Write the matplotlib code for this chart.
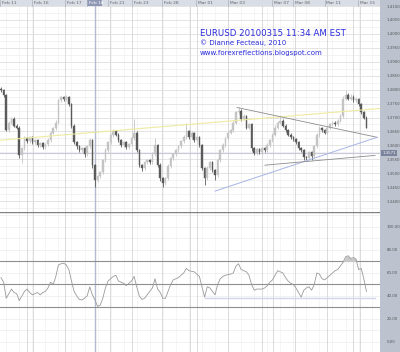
import matplotlib
matplotlib.use("Agg")
import matplotlib.pyplot as plt
from matplotlib.patches import Rectangle
from matplotlib.transforms import blended_transform_factory
import numpy as np

plt.rcParams['font.family'] = ['DejaVu Sans']

# ---------------- data ----------------
first_open = 1.3804
closes = [1.3797, 1.3779, 1.3654, 1.3682, 1.3696, 1.3671, 1.3664, 1.3564, 1.3589, 1.3625,
          1.3614, 1.3629, 1.3611, 1.3618, 1.3600, 1.3607, 1.3593, 1.3604, 1.3618, 1.3646,
          1.3661, 1.3682, 1.3761, 1.3772, 1.3765, 1.3772, 1.3747, 1.3671, 1.3611, 1.3596,
          1.3582, 1.3589, 1.3568, 1.3596, 1.3618, 1.3529, 1.3475, 1.3489, 1.3504, 1.3546,
          1.3582, 1.3611, 1.3636, 1.3650, 1.3639, 1.3618, 1.3600, 1.3611, 1.3593, 1.3604,
          1.3625, 1.3646, 1.3582, 1.3529, 1.3518, 1.3539, 1.3546, 1.3539, 1.3568, 1.3600,
          1.3529, 1.3482, 1.3464, 1.3482, 1.3525, 1.3554, 1.3568, 1.3582, 1.3596, 1.3614,
          1.3629, 1.3650, 1.3629, 1.3643, 1.3618, 1.3629, 1.3600, 1.3518, 1.3482, 1.3518,
          1.3539, 1.3511, 1.3493, 1.3546, 1.3582, 1.3600, 1.3625, 1.3646, 1.3654, 1.3682,
          1.3718, 1.3725, 1.3696, 1.3704, 1.3664, 1.3675, 1.3589, 1.3571, 1.3586, 1.3575,
          1.3589, 1.3582, 1.3600, 1.3618, 1.3639, 1.3664, 1.3682, 1.3689, 1.3671, 1.3654,
          1.3639, 1.3629, 1.3622, 1.3611, 1.3589, 1.3582, 1.3557, 1.3554, 1.3575, 1.3561,
          1.3596, 1.3636, 1.3661, 1.3654, 1.3646, 1.3664, 1.3675, 1.3682, 1.3675, 1.3689,
          1.3704, 1.3768, 1.3782, 1.3768, 1.3775, 1.3761, 1.3765, 1.3747, 1.3718, 1.3700,
          1.3664]
# wick lengths in pips above / below the candle body
wick_up = [6, 5, 4, 6, 5, 6, 4, 5, 6, 7, 5, 6, 5, 6, 5, 6, 5, 6, 7, 6,
           5, 8, 7, 6, 5, 7, 6, 5, 6, 5, 6, 5, 6, 5, 10, 6, 5, 6, 5, 6,
           7, 6, 6, 7, 5, 6, 5, 6, 5, 6, 7, 47, 5, 6, 5, 6, 5, 6, 7, 25,
           5, 6, 5, 6, 7, 6, 5, 6, 7, 6, 8, 29, 6, 7, 6, 5, 6, 5, 6, 7,
           6, 5, 6, 7, 6, 7, 6, 7, 6, 8, 7, 14, 6, 7, 6, 7, 5, 6, 5, 6,
           5, 6, 7, 6, 7, 8, 7, 15, 6, 5, 6, 5, 6, 5, 6, 5, 6, 5, 6, 5,
           7, 8, 7, 6, 5, 7, 6, 7, 6, 7, 8, 10, 18, 7, 8, 6, 7, 6, 5, 6,
           4]
wick_dn = [5, 6, 4, 5, 6, 5, 6, 8, 28, 6, 5, 6, 5, 6, 7, 5, 6, 5, 6, 5,
           6, 5, 6, 5, 6, 5, 6, 7, 6, 8, 7, 6, 8, 6, 5, 9, 25, 7, 6, 5,
           6, 5, 6, 5, 6, 5, 6, 5, 6, 5, 6, 5, 7, 8, 9, 6, 5, 6, 5, 6,
           7, 8, 14, 6, 5, 6, 5, 6, 5, 6, 5, 6, 5, 6, 5, 6, 7, 8, 25, 7,
           6, 7, 18, 6, 5, 6, 5, 6, 5, 6, 5, 6, 7, 6, 7, 6, 8, 7, 6, 7,
           6, 7, 6, 5, 6, 5, 6, 5, 6, 5, 6, 5, 6, 5, 7, 6, 8, 7, 6, 15,
           6, 5, 6, 5, 6, 5, 6, 5, 6, 5, 6, 5, 6, 5, 6, 5, 6, 7, 6, 6,
           3]
rsi = [56, 52, 38, 42, 46, 43, 42, 36, 40, 44, 46, 43, 41, 42, 43, 41, 43, 44, 47, 52,
       50, 57, 67, 68, 68.5, 67, 63, 53, 44, 40, 37, 36.5, 38, 40, 48, 41, 36.5, 31, 32, 38,
       47, 53, 55, 57, 58, 53, 52, 51, 49, 51, 53, 57, 48, 40, 37, 38, 41, 44, 47, 55,
       46, 43, 38, 38, 44, 50, 54, 55, 56, 58, 60, 64, 62, 61.5, 61, 59, 57, 48, 39, 48,
       47, 44, 41, 50, 55, 57, 58, 58.6, 59, 60, 66, 68, 63, 62, 61, 58, 50, 45, 46, 46,
       46, 47, 49, 52, 54, 58, 62, 61, 60, 56, 53, 51, 50, 47, 43, 39, 45, 47, 48, 45,
       50, 60, 59, 55, 54, 56, 58, 60, 62, 63, 66, 69, 74, 75, 72.5, 73.5, 72, 63, 64, 55,
       44]

date_labels = ["Feb 11", "Feb 16", "Feb 17", "Feb 18", "Feb 21", "Feb 23", "Feb 28",
               "Mar 01", "Mar 03", "Mar 07", "Mar 08", "Mar 11", "Mar 15"]
date_pos = [-0.4, 11.9, 24.5, 33.0, 41.0, 50.2, 61.7, 74.7, 87.0, 103.8, 111.9, 124.1, 136.8]
day_grid = [10.0, 12.3, 24.5, 36.0, 41.8, 50.2, 61.7, 72.4, 75.1, 87.0, 100.0, 104.2, 112.6, 124.9, 134.9, 137.6]
cursor_pos = 36.0
price_ticks = [1.3400, 1.3450, 1.3500, 1.3550, 1.3600, 1.3650, 1.3700, 1.3750, 1.3800,
               1.3850, 1.3900, 1.3950, 1.4000, 1.4050, 1.4100]
rsi_ticks = [0, 20, 40, 60, 80, 100]
rsi_levels = [30, 50, 70]
marker_price = 1.3571

# trend lines (bar index, price)
yellow_line = ([-1, 146], [1.3618, 1.3733])
grey_down = ([90.4, 144.1], [1.3736, 1.3629])
blue_up = ([82.0, 144.1], [1.3436, 1.3629])
grey_low = ([101.1, 143.3], [1.3529, 1.3564])
rsi_support = ([78.2, 143.3], [38.3, 38.3])

# ---------------- figure ----------------
W, H = 400, 352
fig = plt.figure(figsize=(4.0, 3.52), dpi=100)
fig.patch.set_facecolor('white')

def fx(px):
    return px / W

def fy(py):
    return 1 - py / H

strip_col = '#bcc3cf'
fig.patches.append(Rectangle((fx(380), 0), fx(20), 1, transform=fig.transFigure,
                             facecolor=strip_col, edgecolor='none', zorder=-10))
fig.patches.append(Rectangle((0, fy(6)), fx(380), 6 / H, transform=fig.transFigure,
                             facecolor='#d9dde5', edgecolor='none', zorder=-10))

ax = fig.add_axes([0, fy(212), fx(380), (212 - 6) / H])
axr = fig.add_axes([0, 0, fx(380), (352 - 212) / H], sharex=ax)

n = len(closes)
idx = np.arange(n)
opens = [first_open] + closes[:-1]
xmin, xmax = -0.385, 145.2

for a in (ax, axr):
    a.set_facecolor('white')
    for s in a.spines.values():
        s.set_visible(False)
    a.tick_params(left=False, bottom=False, labelbottom=False, labelleft=False)
    a.set_xlim(xmin, xmax)
    for xv in np.arange(2.0, 146, 5.0):
        a.axvline(xv, color='#f1f1f1', lw=0.5, zorder=0)
    for xv in day_grid:
        a.axvline(xv, color='#d6d6d6', lw=0.6, zorder=0.5)
    a.axvline(cursor_pos, color='#b4bad0', lw=1.0, zorder=0.6)

# price panel
ax.set_ylim(1.3361, 1.4096)
for p in np.arange(1.3375, 1.41, 0.0025):
    ax.axhline(p, color='#eeeeee', lw=0.5, zorder=0)
for p in price_ticks:
    ax.axhline(p, color='#e2e2e2', lw=0.6, zorder=0.2)
ax.axhline(marker_price, color='#c9c9de', lw=0.8, zorder=0.7)

up_col, dn_col = '#c4c4c4', '#5a5a5a'
for i in range(n):
    o, c = opens[i], closes[i]
    col = up_col if c >= o else dn_col
    hi = max(o, c) + wick_up[i] * 0.0001
    lo = min(o, c) - wick_dn[i] * 0.0001
    ax.vlines(i, lo, hi, color=col, lw=0.6, zorder=2)
    ax.bar(i, max(abs(c - o), 0.00008), bottom=min(o, c), width=0.62,
           color=col, edgecolor=col, lw=0.3, zorder=3)

ax.plot(*yellow_line, color='#eeeaa0', lw=0.8, zorder=4)
ax.plot(*grey_down, color='#8c8c8c', lw=0.6, zorder=4)
ax.plot(*blue_up, color='#a9b4e4', lw=0.7, zorder=4)
ax.plot(*grey_low, color='#8c8c8c', lw=0.6, zorder=4)

lab_size = 2.8
ax.yaxis.tick_right()
ax.set_yticks(price_ticks)
ax.set_yticklabels([f"{p:.4f}" for p in price_ticks])
ax.tick_params(axis='y', right=False, labelright=True, labelsize=lab_size,
               labelcolor='#555555', pad=1.5)

tr = blended_transform_factory(ax.transAxes, ax.transData)
ax.text(1.0 + fx(2.2) / fx(380), marker_price, "1.3571", transform=tr, fontsize=lab_size,
        color='white', va='center', ha='left', zorder=6,
        bbox=dict(boxstyle='square,pad=0.25', facecolor='#7a839c', edgecolor='none'))

# date strip labels
trx = blended_transform_factory(ax.transData, fig.transFigure)
for lab, pos in zip(date_labels, date_pos):
    if lab == "Feb 18":
        ax.add_patch(Rectangle((pos, fy(6)), 5.7, 6 / H, transform=trx,
                               facecolor='#8e98b4', edgecolor='none', clip_on=False, zorder=5))
        tc = 'white'
    else:
        tc = '#666666'
    ax.text(pos + 0.6, fy(3.2), lab, transform=trx, fontsize=3.2, color=tc,
            va='center', ha='left', clip_on=False, zorder=6)
    ax.plot([pos, pos], [fy(6), 1.0], transform=trx, color='#aab0bc', lw=0.5,
            clip_on=False, zorder=5)

# title block
blue = '#2b2bdc'
fig.text(fx(200), fy(33), "EURUSD 20100315 11:34 AM EST", fontsize=6.2, color=blue,
         ha='left', va='center')
fig.text(fx(200), fy(43), "\u00a9 Dianne Fecteau, 2010", fontsize=5.0, color=blue,
         ha='left', va='center')
fig.text(fx(200), fy(52.5), "www.forexreflections.blogspot.com", fontsize=5.0, color=blue,
         ha='left', va='center')

# RSI panel
axr.set_ylim(-8.7, 113)
for v in range(0, 111, 10):
    axr.axhline(v, color='#ececec', lw=0.5, zorder=0)
for v in rsi_levels:
    axr.axhline(v, color='#8f8f8f', lw=0.8, zorder=1)
axr.axhline(113, color='#808080', lw=1.0, zorder=1)
rsi_arr = np.array(rsi, dtype=float)
axr.fill_between(idx, 70, rsi_arr, where=rsi_arr > 70, interpolate=True,
                 color='#c8c8c8', lw=0, zorder=1.5)
axr.plot(idx, rsi_arr, color='#9a9a9a', lw=0.6, zorder=2)
axr.plot(*rsi_support, color='#cfd6ee', lw=1.0, zorder=1.8)
axr.yaxis.tick_right()
axr.set_yticks(rsi_ticks)
axr.set_yticklabels([f"{v:.2f}" for v in rsi_ticks])
axr.tick_params(axis='y', right=False, labelright=True, labelsize=lab_size,
                labelcolor='#555555', pad=1.5)

fig.savefig("out.png", dpi=100, facecolor='white')
